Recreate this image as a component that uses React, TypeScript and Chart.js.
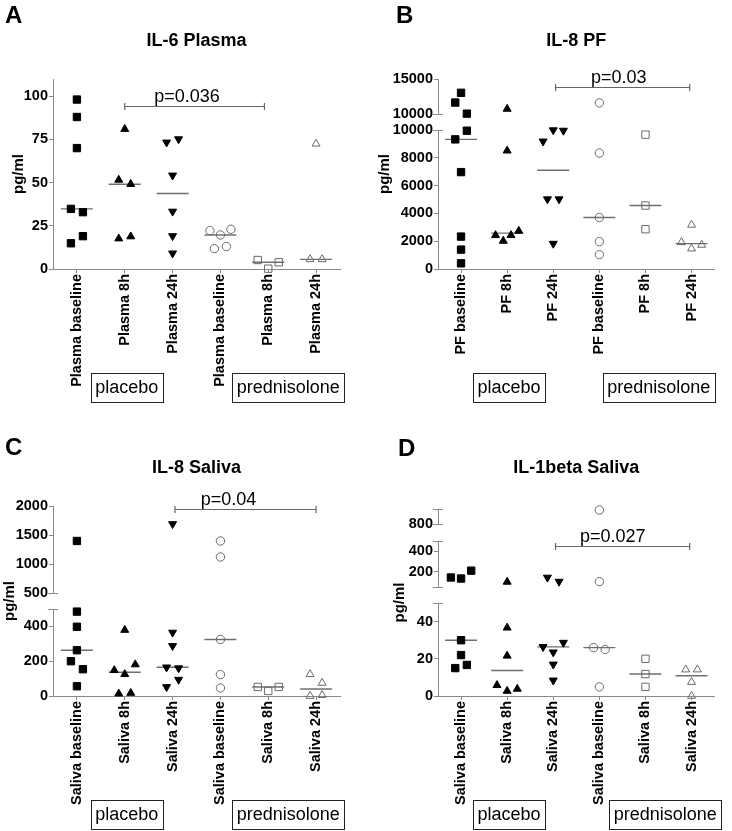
import React, { useEffect, useRef } from "react";
import { Chart, registerables } from "chart.js";

Chart.register(...registerables);

const FONT = "'Liberation Sans', Arial, Helvetica, sans-serif";
const AXIS = "#8a8a8a";
const MEDIAN = "#6f6f6f";
const HOLLOW = "#6a6a6a";

// ---------------- categories ----------------
const groupNames = ["placebo", "prednisolone"];
const plasmaCategories = ["Plasma baseline", "Plasma 8h", "Plasma 24h", "Plasma baseline", "Plasma 8h", "Plasma 24h"];
const pfCategories = ["PF baseline", "PF 8h", "PF 24h", "PF baseline", "PF 8h", "PF 24h"];
const salivaCategories = ["Saliva baseline", "Saliva 8h", "Saliva 24h", "Saliva baseline", "Saliva 8h", "Saliva 24h"];

// ---------------- A: IL-6 Plasma (pg/ml) ----------------
const il6PlaceboBaseline = [98.1, 88, 70, 34.8, 32.9, 14.9, 19];
const il6Placebo8h = [81, 51.6, 49.1, 17.6, 18.8];
const il6Placebo24h = [73.3, 75.2, 54.2, 33.3, 19.1, 9.1];
const il6PredBaseline = [22.2, 19.7, 23, 11.8, 13];
const il6Pred8h = [5.2, 0.2, 3.9];
const il6Pred24h = [72.5, 5.6, 5.6];
const il6Range = [0, 110];
const il6Ticks = [0, 25, 50, 75, 100];
const il6PValue = 94.2;

// ---------------- B: IL-8 PF (pg/ml) ----------------
const il8PfPlaceboBaseline = [11635, 13029, 10050, 9327, 9950, 6971, 2332, 1394, 409];
const il8PfPlacebo8h = [10721, 8510, 2428, 2019, 2428, 2740];
const il8PfPlacebo24h = [9183, 9990, 9960, 5024, 5024, 1827];
const il8PfPredBaseline = [11587, 8341, 3702, 1971, 1034];
const il8PfPred8h = [9663, 4567, 2861];
const il8PfPred24h = [3173, 1923, 1466, 1731];
const il8PfRangeLow = [0, 10000];
const il8PfTicksLow = [0, 2000, 4000, 6000, 8000, 10000];
const il8PfRangeHigh = [10000, 15000];
const il8PfTicksHigh = [10000, 15000];
const il8PfPValue = 13798;

// ---------------- C: IL-8 Saliva (pg/ml) ----------------
const il8SalPlaceboBaseline = [1397, 485, 398, 263, 200, 154, 56];
const il8SalPlacebo8h = [379, 148, 125, 181, 13.5, 17];
const il8SalPlacebo24h = [1690, 365, 288, 165, 160, 52, 94];
const il8SalPredBaseline = [1397, 1121, 325, 123, 46];
const il8SalPred8h = [52, 29, 52];
const il8SalPred24h = [125, 75, 0, 5];
const il8SalRangeLow = [0, 500];
const il8SalTicksLow = [0, 200, 400];
const il8SalRangeHigh = [500, 2000];
const il8SalTicksHigh = [500, 1000, 1500, 2000];
const il8SalPValue = 1942;

// ---------------- D: IL-1beta Saliva (pg/ml) ----------------
const il1bPlaceboBaseline = [143, 133, 210, 30, 22, 15, 16.7];
const il1bPlacebo8h = [100, 36.7, 21.6, 5.8, 2.7, 3.8];
const il1bPlacebo24h = [143, 103, 26.4, 23.5, 28.7, 17, 8.4];
const il1bPredBaseline = [940, 103, 26, 25, 4.9];
const il1bPred8h = [20, 11.8, 4.9];
const il1bPred24h = [14.2, 14.2, 7.5, 0];
const il1bRangeLow = [0, 50];
const il1bTicksLow = [0, 20, 40];
const il1bRangeMid = [50, 500];
const il1bTicksMid = [200, 400];
const il1bRangeTop = [800, 950];
const il1bTicksTop = [800];
const il1bPValue = 448;

// ---------------- layout ----------------
type Seg = { range: number[]; ticks: number[]; px: number; gapBelow?: number; capTop?: boolean };
type Panel = {
  key: string;
  box: { left: number; top: number; width: number; height: number };
  area: { left: number; right: number; top: number; bottom: number };
  letter: string;
  letterPos: [number, number];
  title: string;
  titleY: number;
  yTitleX: number;
  categories: string[];
  series: number[][];
  segs: Seg[];
  pval: { text: string; from: number; to: number; value: number; seg: number; textAt: number };
  groupAt: number[];
};

const panels: Panel[] = [
  {
    key: "A",
    box: { left: 0, top: 0, width: 366, height: 415 },
    area: { left: 53, right: 340, top: 79, bottom: 269 },
    letter: "A", letterPos: [5, 23], title: "IL-6 Plasma", titleY: 46, yTitleX: 19,
    categories: plasmaCategories,
    series: [il6PlaceboBaseline, il6Placebo8h, il6Placebo24h, il6PredBaseline, il6Pred8h, il6Pred24h],
    segs: [{ range: il6Range, ticks: il6Ticks, px: 190 }],
    pval: { text: "p=0.036", from: 1, to: 3.92, value: il6PValue, seg: 0, textAt: 2.3 },
    groupAt: [1.04, 4.42],
  },
  {
    key: "B",
    box: { left: 366, top: 0, width: 366, height: 415 },
    area: { left: 72, right: 358, top: 79, bottom: 269 },
    letter: "B", letterPos: [30, 23], title: "IL-8 PF", titleY: 46, yTitleX: 19,
    categories: pfCategories,
    series: [il8PfPlaceboBaseline, il8PfPlacebo8h, il8PfPlacebo24h, il8PfPredBaseline, il8PfPred8h, il8PfPred24h],
    segs: [
      { range: il8PfRangeLow, ticks: il8PfTicksLow, px: 139 },
      { range: il8PfRangeHigh, ticks: il8PfTicksHigh, px: 35, gapBelow: 16 },
    ],
    pval: { text: "p=0.03", from: 2.05, to: 4.96, value: il8PfPValue, seg: 1, textAt: 3.42 },
    groupAt: [1.04, 4.29],
  },
  {
    key: "C",
    box: { left: 0, top: 415, width: 366, height: 416 },
    area: { left: 53, right: 340, top: 91, bottom: 281 },
    letter: "C", letterPos: [5, 40], title: "IL-8 Saliva", titleY: 58, yTitleX: 10,
    categories: salivaCategories,
    series: [il8SalPlaceboBaseline, il8SalPlacebo8h, il8SalPlacebo24h, il8SalPredBaseline, il8SalPred8h, il8SalPred24h],
    segs: [
      { range: il8SalRangeLow, ticks: il8SalTicksLow, px: 87 },
      { range: il8SalRangeHigh, ticks: il8SalTicksHigh, px: 87, gapBelow: 16 },
    ],
    pval: { text: "p=0.04", from: 2.05, to: 5, value: il8SalPValue, seg: 1, textAt: 3.17 },
    groupAt: [1.04, 4.42],
  },
  {
    key: "D",
    box: { left: 366, top: 415, width: 366, height: 416 },
    area: { left: 72, right: 358, top: 94, bottom: 281 },
    letter: "D", letterPos: [32, 41], title: "IL-1beta Saliva", titleY: 58, yTitleX: 34,
    categories: salivaCategories,
    series: [il1bPlaceboBaseline, il1bPlacebo8h, il1bPlacebo24h, il1bPredBaseline, il1bPred8h, il1bPred24h],
    segs: [
      { range: il1bRangeLow, ticks: il1bTicksLow, px: 93 },
      { range: il1bRangeMid, ticks: il1bTicksMid, px: 46, gapBelow: 16 },
      { range: il1bRangeTop, ticks: il1bTicksTop, px: 15, gapBelow: 17, capTop: true },
    ],
    pval: { text: "p=0.027", from: 2.05, to: 4.96, value: il1bPValue, seg: 1, textAt: 3.29 },
    groupAt: [1.04, 4.43],
  },
];

// marker styles per series (placebo filled, prednisolone hollow)
const markerStyles = [
  { pointStyle: "rect", radius: 5.2, rotation: 0, fill: "#000", stroke: "#000" },
  { pointStyle: "triangle", radius: 4.6, rotation: 0, fill: "#000", stroke: "#000" },
  { pointStyle: "triangle", radius: 4.6, rotation: 180, fill: "#000", stroke: "#000" },
  { pointStyle: "circle", radius: 4.2, rotation: 0, fill: "rgba(0,0,0,0)", stroke: HOLLOW },
  { pointStyle: "rect", radius: 5.2, rotation: 0, fill: "rgba(0,0,0,0)", stroke: HOLLOW },
  { pointStyle: "triangle", radius: 4.6, rotation: 0, fill: "rgba(0,0,0,0)", stroke: HOLLOW },
];

function median(vals: number[]) {
  const s = [...vals].sort((a, b) => a - b);
  const n = s.length;
  return n % 2 ? s[(n - 1) / 2] : (s[n / 2 - 1] + s[n / 2]) / 2;
}

function segIndexOf(segs: Seg[], v: number) {
  const i = segs.findIndex((s) => v >= s.range[0] && v <= s.range[1]);
  return i < 0 ? 0 : i;
}

function displayPos(segs: Seg[], v: number) {
  const si = segIndexOf(segs, v);
  let base = 0;
  for (let i = 0; i < si; i++) base += segs[i].px + (segs[i + 1].gapBelow || 0);
  const s = segs[si];
  return base + ((v - s.range[0]) / (s.range[1] - s.range[0])) * s.px;
}

// spread points of similar value side by side (in pixels)
function spreadOffsets(values: number[], segs: Seg[]) {
  const pos = values.map((v) => displayPos(segs, v));
  const order = values.map((_, i) => i).sort((a, b) => pos[a] - pos[b] || a - b);
  const rows: number[][] = [];
  let anchor = -Infinity;
  for (const i of order) {
    if (rows.length && pos[i] - anchor < 11.5) rows[rows.length - 1].push(i);
    else {
      rows.push([i]);
      anchor = pos[i];
    }
  }
  const off = new Array(values.length).fill(0);
  for (const row of rows) {
    row.sort((a, b) => a - b);
    const n = row.length;
    const step = n === 2 ? 12 : n === 3 ? 10.5 : 8;
    row.forEach((idx, k) => (off[idx] = (k - (n - 1) / 2) * step));
  }
  return off;
}

const segId = (i: number) => (i === 0 ? "y" : "y" + i);

function decoPlugin(p: Panel) {
  return {
    id: "deco" + p.key,
    afterDraw(chart: any) {
      const ctx = chart.ctx as CanvasRenderingContext2D;
      const ca = chart.chartArea;
      const xs = chart.scales.x;
      ctx.save();
      ctx.fillStyle = "#000";
      // panel letter
      ctx.textAlign = "left";
      ctx.textBaseline = "alphabetic";
      ctx.font = `bold 24px ${FONT}`;
      ctx.fillText(p.letter, p.letterPos[0], p.letterPos[1]);
      // title
      ctx.font = `bold 18px ${FONT}`;
      ctx.textAlign = "center";
      ctx.fillText(p.title, (ca.left + ca.right) / 2, p.titleY);
      // y axis title
      ctx.save();
      ctx.translate(p.yTitleX, (ca.top + ca.bottom) / 2);
      ctx.rotate(-Math.PI / 2);
      ctx.font = `bold 15px ${FONT}`;
      ctx.textBaseline = "middle";
      ctx.fillText("pg/ml", 0, 0);
      ctx.restore();
      // axis break caps
      ctx.strokeStyle = AXIS;
      ctx.lineWidth = 1;
      p.segs.forEach((seg, i) => {
        const sc = chart.scales[segId(i)];
        const caps: number[] = [];
        if (i > 0) caps.push(seg.range[0]);
        if (i < p.segs.length - 1 || seg.capTop) caps.push(seg.range[1]);
        caps.forEach((v) => {
          const y = Math.round(sc.getPixelForValue(v)) + 0.5;
          ctx.beginPath();
          ctx.moveTo(ca.left - 5, y);
          ctx.lineTo(ca.left + 5, y);
          ctx.stroke();
        });
      });
      // significance bracket
      const ys = chart.scales[segId(p.pval.seg)];
      const py = Math.round(ys.getPixelForValue(p.pval.value)) + 0.5;
      const x1 = xs.getPixelForValue(p.pval.from);
      const x2 = xs.getPixelForValue(p.pval.to);
      ctx.strokeStyle = "#666";
      ctx.lineWidth = 1.2;
      ctx.beginPath();
      ctx.moveTo(x1, py);
      ctx.lineTo(x2, py);
      ctx.moveTo(x1, py - 3.5);
      ctx.lineTo(x1, py + 3.5);
      ctx.moveTo(x2, py - 3.5);
      ctx.lineTo(x2, py + 3.5);
      ctx.stroke();
      ctx.font = `18px ${FONT}`;
      ctx.textAlign = "center";
      ctx.textBaseline = "alphabetic";
      ctx.fillStyle = "#000";
      ctx.fillText(p.pval.text, xs.getPixelForValue(p.pval.textAt), py - 4.5);
      // group boxes
      const boxTop = ca.bottom + 103.5;
      const boxH = 29;
      groupNames.forEach((name, gi) => {
        const cx = xs.getPixelForValue(p.groupAt[gi]);
        const w = ctx.measureText(name).width + 9;
        ctx.strokeStyle = "#222";
        ctx.lineWidth = 1;
        ctx.strokeRect(Math.round(cx - w / 2) + 0.5, Math.round(boxTop) + 0.5, Math.round(w), boxH);
        ctx.textBaseline = "middle";
        ctx.fillText(name, cx, boxTop + boxH / 2 + 1);
      });
      ctx.restore();
    },
  };
}

function buildConfig(p: Panel): any {
  const plotW = p.area.right - p.area.left;
  const pxPerX = plotW / 6;
  const scales: any = {};
  scales.x = {
    type: "linear",
    position: "bottom",
    min: -0.5,
    max: 5.5,
    afterBuildTicks: (s: any) => {
      s.ticks = p.categories.map((_, i) => ({ value: i }));
    },
    afterFit: (s: any) => {
      s.height = p.box.height - p.area.bottom;
    },
    border: { color: AXIS, width: 1 },
    grid: { drawOnChartArea: false, drawTicks: true, tickLength: 4, color: AXIS, tickColor: AXIS },
    ticks: {
      autoSkip: false,
      minRotation: 90,
      maxRotation: 90,
      padding: 1,
      color: "#000",
      font: { family: FONT, size: 14.5, weight: "bold" },
      callback: (v: number) => p.categories[v] ?? "",
    },
  };
  let w = 1;
  p.segs.forEach((seg, i) => {
    if (seg.gapBelow) {
      scales["gap" + i] = {
        type: "linear",
        display: false,
        position: "left",
        stack: "v",
        stackWeight: seg.gapBelow,
        weight: w++,
        min: 0,
        max: 1,
      };
    }
    scales[segId(i)] = {
      type: "linear",
      position: "left",
      stack: "v",
      stackWeight: seg.px,
      weight: w++,
      min: seg.range[0],
      max: seg.range[1],
      afterBuildTicks: (s: any) => {
        s.ticks = seg.ticks.map((v) => ({ value: v }));
      },
      afterFit: (s: any) => {
        s.width = p.area.left;
      },
      border: { color: AXIS, width: 1 },
      grid: { drawOnChartArea: false, drawTicks: true, tickLength: 4, color: AXIS, tickColor: AXIS },
      ticks: {
        autoSkip: false,
        padding: 1,
        color: "#000",
        font: { family: FONT, size: 14.5, weight: "bold" },
        callback: (v: number) => String(v),
      },
    };
  });

  const datasets: any[] = [];
  // medians
  p.series.forEach((vals, si) => {
    const m = median(vals);
    datasets.push({
      data: [{ x: si, y: m }],
      yAxisID: segId(segIndexOf(p.segs, m)),
      xAxisID: "x",
      pointStyle: "line",
      pointRadius: 16,
      pointBorderColor: MEDIAN,
      pointBackgroundColor: MEDIAN,
      pointBorderWidth: 1.4,
      order: 1,
      clip: false,
    });
  });
  // points
  p.series.forEach((vals, si) => {
    const off = spreadOffsets(vals, p.segs);
    const st = markerStyles[si];
    p.segs.forEach((_, gi) => {
      const data = vals
        .map((v, k) => ({ v, k }))
        .filter(({ v }) => segIndexOf(p.segs, v) === gi)
        .map(({ v, k }) => ({ x: si + off[k] / pxPerX, y: v }));
      if (!data.length) return;
      datasets.push({
        data,
        yAxisID: segId(gi),
        xAxisID: "x",
        pointStyle: st.pointStyle,
        pointRadius: st.radius,
        pointRotation: st.rotation,
        pointBackgroundColor: st.fill,
        pointBorderColor: st.stroke,
        pointBorderWidth: 1,
        order: 0,
        clip: false,
      });
    });
  });

  return {
    type: "scatter",
    data: { datasets },
    options: {
      responsive: false,
      animation: false,
      events: [],
      layout: {
        padding: { left: 0, top: p.area.top, right: p.box.width - p.area.right, bottom: 0 },
      },
      plugins: { legend: { display: false }, tooltip: { enabled: false }, title: { display: false } },
      scales,
    },
    plugins: [decoPlugin(p)],
  };
}

function PanelChart({ p }: { p: Panel }) {
  const ref = useRef<HTMLCanvasElement>(null);
  useEffect(() => {
    if (!ref.current) return;
    const chart = new Chart(ref.current, buildConfig(p));
    return () => chart.destroy();
  }, [p]);
  return (
    <canvas
      ref={ref}
      width={p.box.width}
      height={p.box.height}
      style={{ position: "absolute", left: p.box.left, top: p.box.top, width: p.box.width, height: p.box.height }}
    />
  );
}

export default function App() {
  return (
    <div style={{ position: "absolute", left: 0, top: 0, width: 732, height: 831, background: "#fff" }}>
      {panels.map((p) => (
        <PanelChart key={p.key} p={p} />
      ))}
    </div>
  );
}
